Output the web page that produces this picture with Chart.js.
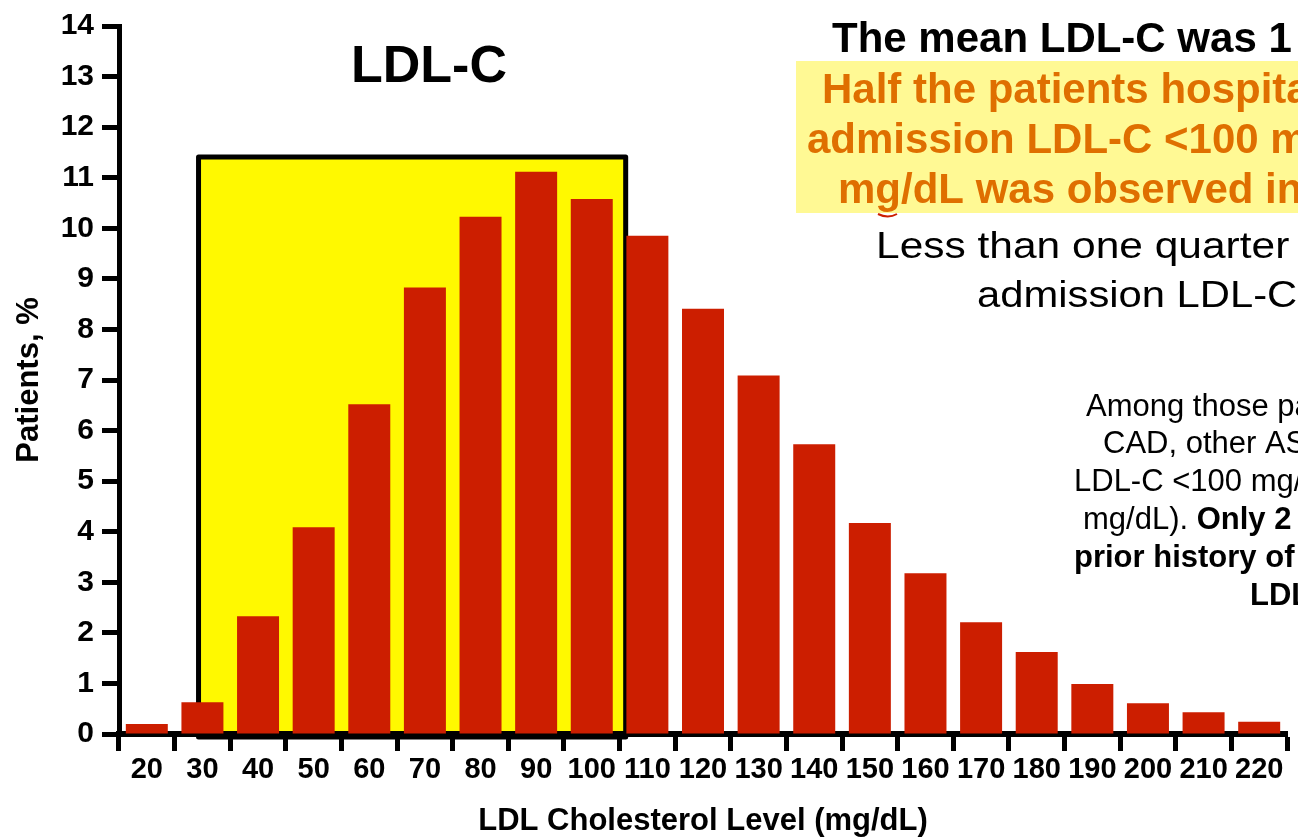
<!DOCTYPE html>
<html>
<head>
<meta charset="utf-8">
<script src="https://cdn.jsdelivr.net/npm/chart.js@4/dist/chart.umd.min.js"></script>
<style>
  html, body { margin: 0; padding: 0; background: #fff; overflow: hidden; }
  #wrap { width: 1298px; height: 838px; position: relative; }
</style>
</head>
<body>
<div id="wrap"><canvas id="ldlChart" width="1298" height="838"></canvas></div>
<script>
// LDL-C bins (mg/dL) and share of patients in each bin (%)
const ldlLevels = [20, 30, 40, 50, 60, 70, 80, 90, 100, 110, 120, 130, 140, 150, 160, 170, 180, 190, 200, 210, 220];
const patientPct = [0.2, 0.63, 2.33, 4.09, 6.52, 8.83, 10.23, 11.12, 10.58, 9.85, 8.41, 7.09, 5.73, 4.17, 3.18, 2.21, 1.62, 0.99, 0.61, 0.43, 0.24];
const yTickValues = [0, 1, 2, 3, 4, 5, 6, 7, 8, 9, 10, 11, 12, 13, 14];

// Highlighted LDL-C range (mg/dL) and its height (%)
const highlightFrom = 29.3;
const highlightTo = 106.1;
const highlightTop = 11.41;

const FONT = '"Liberation Sans", Arial, Helvetica, sans-serif';

// mg/dL -> category index on the x scale
const levelToIndex = v => (v - ldlLevels[0]) / (ldlLevels[1] - ldlLevels[0]);

const backdropPlugin = {
  id: 'backdrop',
  beforeDraw(chart) {
    const { ctx, chartArea, scales } = chart;
    ctx.save();
    ctx.fillStyle = '#ffffff';
    ctx.fillRect(0, 0, chart.width, chart.height);

    // light highlight behind the orange statement
    ctx.fillStyle = '#fff994';
    ctx.fillRect(796, 61, chart.width - 796, 152);

    // yellow box marking the range
    const x1 = scales.x.getPixelForValue(levelToIndex(highlightFrom));
    const x2 = scales.x.getPixelForValue(levelToIndex(highlightTo));
    const y1 = scales.y.getPixelForValue(highlightTop);
    const y2 = chartArea.bottom + 3;
    ctx.fillStyle = '#fff900';
    ctx.fillRect(x1, y1, x2 - x1, y2 - y1);
    ctx.lineWidth = 5;
    ctx.lineJoin = 'round';
    ctx.strokeStyle = '#000000';
    ctx.strokeRect(x1, y1, x2 - x1, y2 - y1);
    ctx.restore();
  },
  afterDraw(chart) {
    const { ctx } = chart;
    ctx.save();
    ctx.textBaseline = 'alphabetic';
    ctx.textAlign = 'left';

    // chart title
    ctx.fillStyle = '#000';
    ctx.font = 'bold 52px ' + FONT;
    ctx.textAlign = 'center';
    ctx.fillText('LDL-C', 429, 82);
    ctx.textAlign = 'left';

    // headline statements
    ctx.font = 'bold 42px ' + FONT;
    ctx.fillStyle = '#000';
    ctx.fillText('The mean LDL-C was 1', 832, 52);
    ctx.fillStyle = '#df6f00';
    ctx.fillText('Half the patients hospitalized', 822, 103);
    ctx.fillText('admission LDL-C <100 mg/dL', 807, 153);
    ctx.fillText('mg/dL was observed in', 838, 203);

    // spelling underline under "mg"
    ctx.strokeStyle = '#cc1e00';
    ctx.lineWidth = 2;
    ctx.beginPath();
    ctx.moveTo(878, 214);
    ctx.quadraticCurveTo(888, 219, 897, 214);
    ctx.stroke();

    ctx.fillStyle = '#000';
    ctx.font = '36px ' + FONT;
    const wide = (txt, x, y, sx) => {
      ctx.save();
      ctx.translate(x, y);
      ctx.scale(sx, 1);
      ctx.fillText(txt, 0, 0);
      ctx.restore();
    };
    wide('Less than one quarter', 876, 258, 1.18);
    wide('admission LDL-C', 977, 307, 1.16);

    // note on patients with prior history
    ctx.font = '31px ' + FONT;
    ctx.fillText('Among those patients', 1086, 416);
    ctx.fillText('CAD, other ASCVD', 1103, 453);
    ctx.fillText('LDL-C <100 mg/dL', 1074, 491);
    const part = 'mg/dL). ';
    ctx.fillText(part, 1083, 529);
    const pw = ctx.measureText(part).width;
    ctx.font = 'bold 31px ' + FONT;
    ctx.fillText('Only 2', 1083 + pw, 529);
    ctx.fillText('prior history of', 1074, 567);
    ctx.fillText('LDL', 1250, 605);
    ctx.restore();
  }
};

new Chart(document.getElementById('ldlChart'), {
  type: 'bar',
  data: {
    labels: ldlLevels.map(String),
    datasets: [{
      data: patientPct,
      backgroundColor: '#cc1e00',
      borderWidth: 0,
      categoryPercentage: 1,
      barPercentage: 0.755
    }]
  },
  options: {
    responsive: false,
    animation: false,
    devicePixelRatio: 1,
    layout: { padding: { top: 25, right: 11, bottom: 0, left: 0 } },
    plugins: { legend: { display: false }, tooltip: { enabled: false }, title: { display: false } },
    scales: {
      x: {
        type: 'category',
        offset: true,
        grid: {
          offset: true,
          drawOnChartArea: false,
          drawTicks: true,
          tickLength: 17,
          tickWidth: 5,
          tickColor: '#000'
        },
        border: { display: true, color: '#000', width: 6 },
        ticks: {
          autoSkip: false,
          maxRotation: 0,
          minRotation: 0,
          color: '#000',
          padding: 2,
          font: { family: FONT, size: 29, weight: 'bold' }
        },
        title: {
          display: true,
          text: 'LDL Cholesterol Level (mg/dL)',
          color: '#000',
          padding: { top: 0, bottom: -2 },
          font: { family: FONT, size: 31, weight: 'bold' }
        },
        afterFit(scale) { scale.height = 104; }
      },
      y: {
        min: 0,
        max: 14,
        afterBuildTicks(scale) { scale.ticks = yTickValues.map(v => ({ value: v })); },
        grid: {
          drawOnChartArea: false,
          drawTicks: true,
          tickLength: 17,
          tickWidth: 5,
          tickColor: '#000'
        },
        border: { display: true, color: '#000', width: 5 },
        ticks: {
          color: '#000',
          padding: 8,
          font: { family: FONT, size: 30, weight: 'bold' }
        },
        title: {
          display: true,
          text: 'Patients, %',
          color: '#000',
          padding: { top: 11, bottom: 0 },
          font: { family: FONT, size: 31, weight: 'bold' }
        },
        afterFit(scale) { scale.width = 119; }
      }
    }
  },
  plugins: [backdropPlugin]
});
</script>
</body>
</html>
